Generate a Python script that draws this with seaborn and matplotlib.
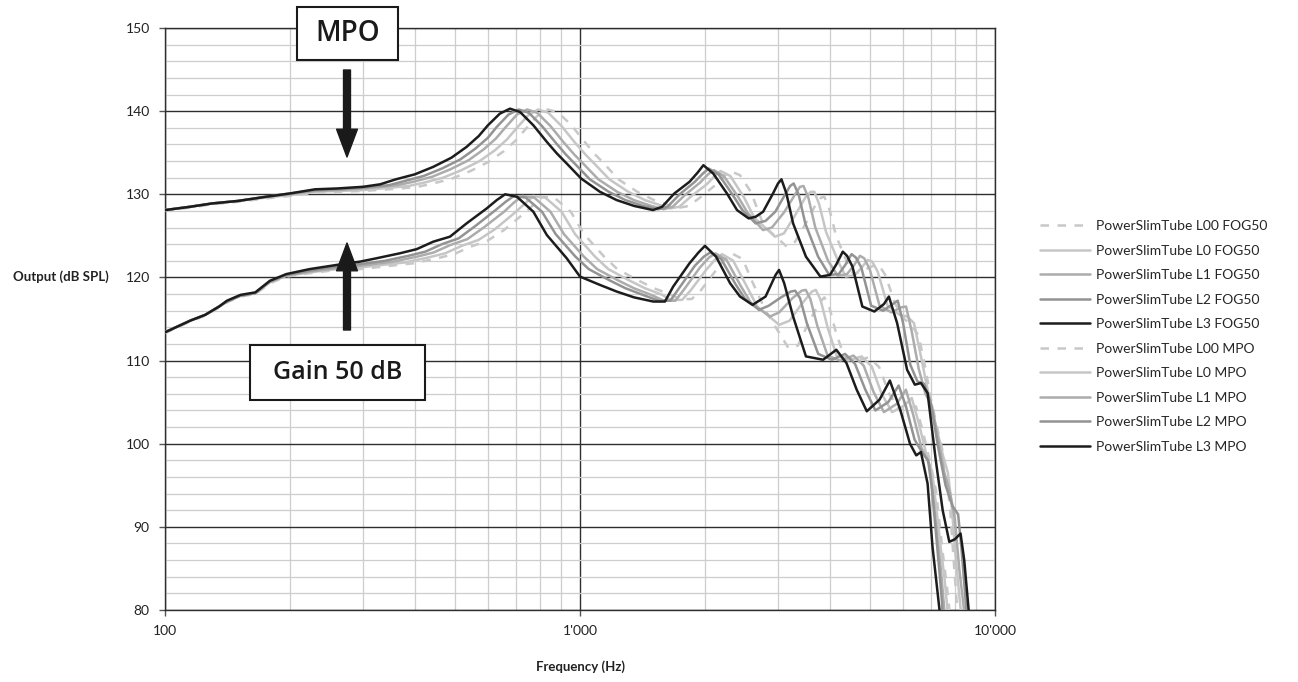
import matplotlib
matplotlib.use("Agg")
import matplotlib.pyplot as plt
import seaborn as sns
import pandas as pd
from matplotlib.patches import Rectangle
from matplotlib.ticker import FixedLocator, MultipleLocator, LogLocator, NullFormatter, FixedFormatter

# ---------------- data ----------------
x_ticks = [100, 1000, 10000]
x_tick_labels = ["100", "1'000", "10'000"]
y_ticks = [80, 90, 100, 110, 120, 130, 140, 150]

series_labels = [
    "PowerSlimTube L00 FOG50", "PowerSlimTube L0 FOG50", "PowerSlimTube L1 FOG50",
    "PowerSlimTube L2 FOG50", "PowerSlimTube L3 FOG50",
    "PowerSlimTube L00 MPO", "PowerSlimTube L0 MPO", "PowerSlimTube L1 MPO",
    "PowerSlimTube L2 MPO", "PowerSlimTube L3 MPO",
]

fog_l3 = [(100,113.4),(115,114.8),(125,115.5),(135,116.5),(141,117.2),(152,117.9),(165,118.2),(179,119.6),
          (196,120.4),(223,121.0),(259,121.5),(295,121.9),(323,122.3),(368,122.9),(404,123.4),(443,124.3),
          (486,124.9),(533,126.5),(596,128.3),(630,129.3),(660,130.0),(705,129.7),(772,127.9),(832,125.1),
          (929,122.3),(1000,120.1),(1117,119.1),(1226,118.3),(1350,117.6),(1502,117.1),(1602,117.1),
          (1677,118.9),(1836,121.7),(1930,123.0),(2000,123.8),(2127,122.5),(2300,119.3),(2430,117.7),
          (2605,116.7),(2800,117.7),(2960,120.3),(3017,120.9),(3105,119.3),(3262,115.3),(3503,110.5),
          (3853,110.1),(4146,111.3),(4386,109.7),(4642,106.5),(4910,103.9),(5270,105.3),(5580,107.6),
          (5910,104.1),(6240,100.0),(6460,98.6),(6630,99.0),(6880,95.2),(7070,87.6),(7350,80.0),(7500,77.0)]

fog_l2 = [(100,113.4),(115,114.8),(125,115.5),(135,116.5),(141,117.1),(152,117.8),(165,118.1),(179,119.5),
          (196,120.3),(223,120.8),(259,121.3),(295,121.6),(339,122.0),(386,122.6),(424,123.1),(465,124.0),
          (510,124.7),(560,126.2),(626,128.1),(662,129.1),(693,129.8),(740,129.6),(810,127.9),(874,125.2),
          (975,122.5),(1050,121.0),(1173,119.7),(1287,118.7),(1418,117.9),(1547,117.2),(1650,117.2),
          (1727,118.6),(1891,121.4),(1988,122.5),(2060,123.0),(2190,122.2),(2369,119.2),(2500,117.4),
          (2700,116.1),(2850,116.6),(3050,117.6),(3220,118.3),(3300,118.4),(3390,117.5),(3520,114.5),
          (3750,110.8),(4046,110.1),(4353,110.8),(4600,109.6),(4870,106.5),(5150,104.0),(5530,105.0),
          (5860,107.0),(6100,104.5),(6400,100.5),(6700,98.8),(6900,98.0),(7050,94.5),(7200,89.5),
          (7350,84.5),(7450,81.0),(7500,78.0)]

fog_l1 = [(100,113.4),(115,114.8),(125,115.5),(135,116.5),(141,117.1),(152,117.8),(165,118.1),(179,119.5),
          (196,120.2),(223,120.7),(259,121.1),(295,121.4),(355,121.9),(405,122.5),(444,123.0),(487,123.9),
          (535,124.6),(586,126.0),(656,127.9),(693,129.0),(726,129.8),(776,129.6),(849,127.9),(915,125.2),
          (1022,122.5),(1100,121.0),(1229,119.7),(1349,118.7),(1485,117.9),(1592,117.2),(1698,117.2),
          (1778,118.5),(1946,121.2),(2046,122.4),(2120,122.9),(2255,122.1),(2438,119.0),(2576,117.0),
          (2870,115.3),(3020,115.8),(3250,117.5),(3420,118.4),(3500,118.5),(3590,117.4),(3730,114.2),
          (3950,110.6),(4238,110.0),(4560,110.6),(4825,109.4),(5100,106.2),(5400,103.8),(5800,104.8),
          (6100,106.5),(6350,103.5),(6650,99.5),(6950,97.5),(7100,93.5),(7250,89.0),(7400,85.0),
          (7520,81.0),(7580,78.0)]

fog_l0 = [(100,113.4),(115,114.8),(125,115.5),(135,116.5),(141,117.1),(152,117.8),(165,118.1),(179,119.4),
          (196,120.2),(223,120.6),(259,121.0),(295,121.2),(378,121.8),(431,122.4),(473,122.9),(519,123.8),
          (569,124.5),(624,125.8),(697,127.8),(737,128.9),(772,129.8),(825,129.6),(903,127.9),(973,125.2),
          (1087,122.5),(1170,121.0),(1307,119.7),(1434,118.7),(1580,117.9),(1652,117.3),(1762,117.3),
          (1845,118.4),(2020,121.0),(2123,122.2),(2200,122.8),(2340,122.0),(2530,118.8),(2673,116.5),
          (3020,114.3),(3200,114.8),(3420,116.8),(3620,118.3),(3700,118.5),(3800,117.3),(3950,114.0),
          (4150,110.6),(4430,110.0),(4770,110.5),(5045,109.3),(5330,106.0),(5650,103.8),(6050,104.6),
          (6300,105.5),(6550,102.5),(6850,98.5),(7100,95.5),(7250,91.5),(7400,87.5),(7550,84.0),
          (7650,81.0),(7700,78.0)]

fog_l00 = [(100,113.3),(115,114.7),(125,115.4),(135,116.4),(141,117.0),(152,117.7),(165,118.0),(179,119.3),
           (196,120.1),(223,120.5),(259,120.9),(295,121.0),(397,121.7),(453,122.3),(497,122.8),(545,123.7),
           (598,124.4),(656,125.7),(733,127.7),(775,128.8),(812,129.7),(867,129.6),(950,127.9),(1023,125.2),
           (1143,122.5),(1230,121.0),(1374,119.7),(1508,118.7),(1661,117.9),(1742,117.4),(1858,117.4),
           (1945,118.3),(2130,120.9),(2240,122.3),(2320,122.9),(2467,122.2),(2600,119.5),(2800,116.0),
           (3180,111.5),(3350,111.8),(3550,114.5),(3780,117.0),(3880,117.6),(3980,116.6),(4130,113.5),
           (4330,110.5),(4620,110.0),(4975,110.4),(5260,109.2),(5560,106.0),(5900,104.0),(6200,104.3),
           (6450,104.5),(6700,101.5),(7000,97.5),(7200,94.5),(7350,90.5),(7500,86.5),(7650,83.0),
           (7750,80.5),(7800,78.0)]

mpo_l3 = [(100,128.1),(115,128.5),(130,128.9),(150,129.2),(175,129.7),(200,130.1),(230,130.6),(260,130.7),
          (300,130.9),(330,131.2),(360,131.8),(400,132.4),(443,133.3),(490,134.4),(533,135.7),(570,137.0),
          (600,138.3),(641,139.7),(678,140.3),(717,139.9),(772,138.3),(832,136.3),(880,134.9),(929,133.7),
          (1006,131.9),(1117,130.3),(1226,129.3),(1350,128.6),(1500,128.1),(1577,128.5),(1688,130.1),
          (1836,131.5),(1920,132.6),(1983,133.5),(2094,132.5),(2260,130.1),(2390,128.1),(2549,127.1),
          (2650,127.3),(2762,127.9),(2918,130.1),(3000,131.3),(3058,131.8),(3143,130.1),(3262,126.5),
          (3503,122.5),(3796,120.1),(4002,120.3),(4150,121.6),(4297,123.1),(4400,122.6),(4535,121.3),
          (4790,116.5),(5120,115.9),(5400,116.8),(5550,117.7),(5810,114.5),(6140,108.9),(6410,107.1),
          (6630,107.3),(6880,106.1),(7200,98.0),(7480,92.0),(7760,88.2),(8000,88.5),(8260,89.2),
          (8430,86.0),(8640,80.0),(8800,77.0)]

mpo_l2 = [(100,128.1),(115,128.5),(130,128.9),(150,129.2),(175,129.7),(200,130.1),(230,130.5),(260,130.6),
          (300,130.8),(347,131.1),(378,131.6),(420,132.2),(465,133.1),(515,134.2),(560,135.5),(600,136.8),
          (630,138.1),(673,139.6),(712,140.2),(753,139.8),(810,138.2),(874,136.2),(924,134.8),(975,133.6),
          (1056,131.8),(1173,130.3),(1287,129.3),(1418,128.6),(1545,128.2),(1625,128.5),(1739,130.0),
          (1891,131.5),(1978,132.5),(2042,133.1),(2157,132.4),(2328,130.0),(2462,128.1),(2650,126.5),
          (2800,126.8),(2955,127.9),(3122,130.0),(3210,131.0),(3272,131.3),(3363,130.0),(3490,126.5),
          (3748,122.5),(3986,120.3),(4202,120.4),(4357,121.5),(4512,122.8),(4620,122.4),(4762,121.2),
          (5030,116.6),(5376,116.0),(5670,116.8),(5830,117.2),(6000,114.6),(6250,109.5),(6500,107.5),
          (6750,107.2),(7000,105.0),(7300,99.5),(7600,95.0),(7900,92.5),(8150,91.5),(8300,87.5),
          (8500,81.0),(8600,78.0)]

mpo_l1 = [(100,128.1),(115,128.5),(130,128.9),(150,129.2),(175,129.7),(200,130.0),(230,130.4),(260,130.5),
          (300,130.7),(330,130.9),(363,131.1),(396,131.5),(440,132.1),(487,133.0),(539,134.1),(586,135.4),
          (627,136.7),(660,138.0),(705,139.6),(746,140.2),(789,139.8),(849,138.2),(915,136.2),(968,134.8),
          (1022,133.6),(1107,131.8),(1229,130.3),(1349,129.3),(1485,128.6),(1590,128.2),(1672,128.5),
          (1789,129.9),(1946,131.4),(2035,132.4),(2102,132.9),(2220,132.2),(2396,129.8),(2533,127.8),
          (2760,125.7),(2900,126.0),(3100,127.8),(3300,130.0),(3390,130.9),(3456,131.0),(3550,129.6),
          (3690,126.0),(3960,122.0),(4180,120.2),(4400,120.4),(4565,121.4),(4727,122.6),(4840,122.3),
          (4990,121.0),(5270,116.6),(5630,115.8),(5940,116.4),(6105,116.5),(6300,113.5),(6550,109.0),
          (6800,106.0),(7050,104.5),(7300,100.5),(7550,96.5),(7800,94.0),(8000,91.0),(8200,85.0),
          (8400,80.5),(8500,78.0)]

mpo_l0 = [(100,128.1),(115,128.5),(130,128.9),(150,129.2),(175,129.6),(200,129.9),(230,130.3),(260,130.4),
          (300,130.5),(350,130.8),(386,131.0),(421,131.4),(468,132.0),(518,132.9),(573,134.0),(624,135.3),
          (667,136.6),(702,137.9),(750,139.5),(793,140.2),(839,139.8),(903,138.2),(973,136.2),(1030,134.8),
          (1087,133.6),(1177,131.8),(1307,130.3),(1434,129.3),(1580,128.6),(1650,128.3),(1735,128.5),
          (1857,129.8),(2020,131.2),(2112,132.2),(2181,132.8),(2303,132.2),(2486,129.6),(2629,127.2),
          (2950,124.9),(3100,125.3),(3300,127.5),(3500,129.7),(3600,130.3),(3670,130.3),(3770,128.8),
          (3915,125.5),(4200,121.8),(4370,120.1),(4600,120.3),(4772,121.2),(4940,122.1),(5060,121.9),
          (5215,120.7),(5510,116.6),(5890,115.5),(6150,115.3),(6380,114.5),(6600,111.0),(6850,107.0),
          (7050,104.0),(7300,101.0),(7500,98.5),(7700,96.5),(7850,93.0),(8050,86.0),(8250,80.5),
          (8350,78.0)]

mpo_l00 = [(100,128.0),(115,128.4),(130,128.8),(150,129.1),(175,129.5),(200,129.8),(230,130.2),(260,130.3),
           (300,130.4),(370,130.7),(406,130.9),(443,131.3),(492,131.9),(545,132.8),(602,133.9),(656,135.2),
           (701,136.5),(738,137.8),(788,139.4),(834,140.2),(882,139.9),(950,138.4),(1023,136.4),(1082,134.9),
           (1143,133.7),(1237,131.8),(1374,130.3),(1508,129.3),(1660,128.6),(1740,128.4),(1830,128.6),
           (1958,129.7),(2130,131.2),(2227,132.2),(2300,132.8),(2429,132.3),(2580,130.3),(2773,126.2),
           (3150,123.7),(3300,124.3),(3500,126.5),(3700,128.8),(3810,129.6),(3880,129.7),(3990,128.2),
           (4140,125.0),(4400,121.8),(4560,120.4),(4800,120.8),(4980,121.2),(5160,121.5),(5280,121.3),
           (5440,120.3),(5750,116.8),(6050,115.0),(6300,114.2),(6550,113.0),(6800,109.0),(7000,105.5),
           (7250,102.0),(7450,99.5),(7650,96.0),(7800,92.0),(7950,86.0),(8100,80.5),(8200,78.0)]

series_data = [fog_l00, fog_l0, fog_l1, fog_l2, fog_l3, mpo_l00, mpo_l0, mpo_l1, mpo_l2, mpo_l3]

# ---------------- styling ----------------
level_colors = ["#c8c8c8", "#c6c6c6", "#acacac", "#939393", "#1c1c1c"]
level_dashed = [True, False, False, False, False]

sns.set_style("white")
plt.rcParams["font.family"] = ["Lato", "DejaVu Sans"]

W, H = 1298, 682
fig = plt.figure(figsize=(W / 100, H / 100), dpi=100)
ax = fig.add_axes([165/W, 1-610/H, 830/W, 582/H])

for i, (lab, pts) in enumerate(zip(series_labels, series_data)):
    df = pd.DataFrame(pts, columns=["Frequency", "Output"])
    lvl = i % 5
    ls = (0, (3.4, 3.4)) if level_dashed[lvl] else "-"
    sns.lineplot(data=df, x="Frequency", y="Output", ax=ax, color=level_colors[lvl],
                 linestyle=ls, linewidth=1.8, label=lab, sort=False, estimator=None, zorder=3 + lvl * 0.1)

ax.set_xscale("log")
ax.set_xlim(100, 10000)
ax.set_ylim(80, 150)

ax.xaxis.set_major_locator(FixedLocator(x_ticks))
ax.xaxis.set_major_formatter(FixedFormatter(x_tick_labels))
ax.xaxis.set_minor_locator(LogLocator(base=10, subs=[2, 3, 4, 5, 6, 7, 8, 9]))
ax.xaxis.set_minor_formatter(NullFormatter())
ax.yaxis.set_major_locator(FixedLocator(y_ticks))
ax.yaxis.set_minor_locator(MultipleLocator(2))

ax.grid(which="major", color="#2e2e2e", linewidth=1.0, zorder=1)
ax.grid(which="minor", color="#cdcdcd", linewidth=0.9, zorder=0)
ax.set_axisbelow(True)
ax.tick_params(which="major", direction="out", length=4, width=1.0, color="#555555",
               labelsize=10, labelcolor="#222222", bottom=True, left=True, pad=7)
ax.tick_params(which="minor", length=0)
for s in ax.spines.values():
    s.set_color("#2e2e2e")
    s.set_linewidth(1.0)

ax.set_xlabel("Frequency (Hz)", fontsize=9.5, fontweight="bold", color="#222222")
ax.xaxis.set_label_coords(0.5, -0.086)
ax.set_ylabel("Output (dB SPL)", fontsize=9.5, fontweight="bold", color="#222222", rotation=0,
              ha="center", va="center")
ax.yaxis.set_label_coords(-0.125, 0.572)

# legend
handles, labels = ax.get_legend_handles_labels()
ax.legend(handles, labels, loc="center left", bbox_to_anchor=(1040/W, 1-336.5/H),
          bbox_transform=fig.transFigure, frameon=False, fontsize=10, handlelength=3.6,
          handletextpad=0.4, labelspacing=0.9, borderpad=0, borderaxespad=0)

# annotation boxes (figure pixel layout)
ann_font = ["Open Sans", "DejaVu Sans"]

def label_box(x0, y0, x1, y1, text, size):
    rect = Rectangle((x0 / W, 1 - y1 / H), (x1 - x0) / W, (y1 - y0) / H, transform=fig.transFigure,
                     facecolor="white", edgecolor="#1a1a1a", linewidth=1.5, zorder=9, clip_on=False)
    ax.add_patch(rect)
    ax.text((x0 + x1) / 2 / W, 1 - (y0 + y1) / 2 / H, text, transform=fig.transFigure,
            ha="center", va="center", fontsize=size, fontweight="semibold", family=ann_font,
            color="#1a1a1a", zorder=10, clip_on=False)

label_box(297, 7, 398, 60, "MPO", 20)
label_box(250, 345, 425, 400, "Gain 50 dB", 18)

arrow_kw = dict(facecolor="#1a1a1a", edgecolor="#1a1a1a", width=5, headwidth=15, headlength=20, shrink=0)
ax.annotate("", xy=(347/W, 1-157/H), xytext=(347/W, 1-70/H),
            xycoords="figure fraction", textcoords="figure fraction", arrowprops=arrow_kw, zorder=10)
ax.annotate("", xy=(347/W, 1-243/H), xytext=(347/W, 1-330/H),
            xycoords="figure fraction", textcoords="figure fraction", arrowprops=arrow_kw, zorder=10)

fig.savefig("out.png", dpi=100, facecolor="white")
